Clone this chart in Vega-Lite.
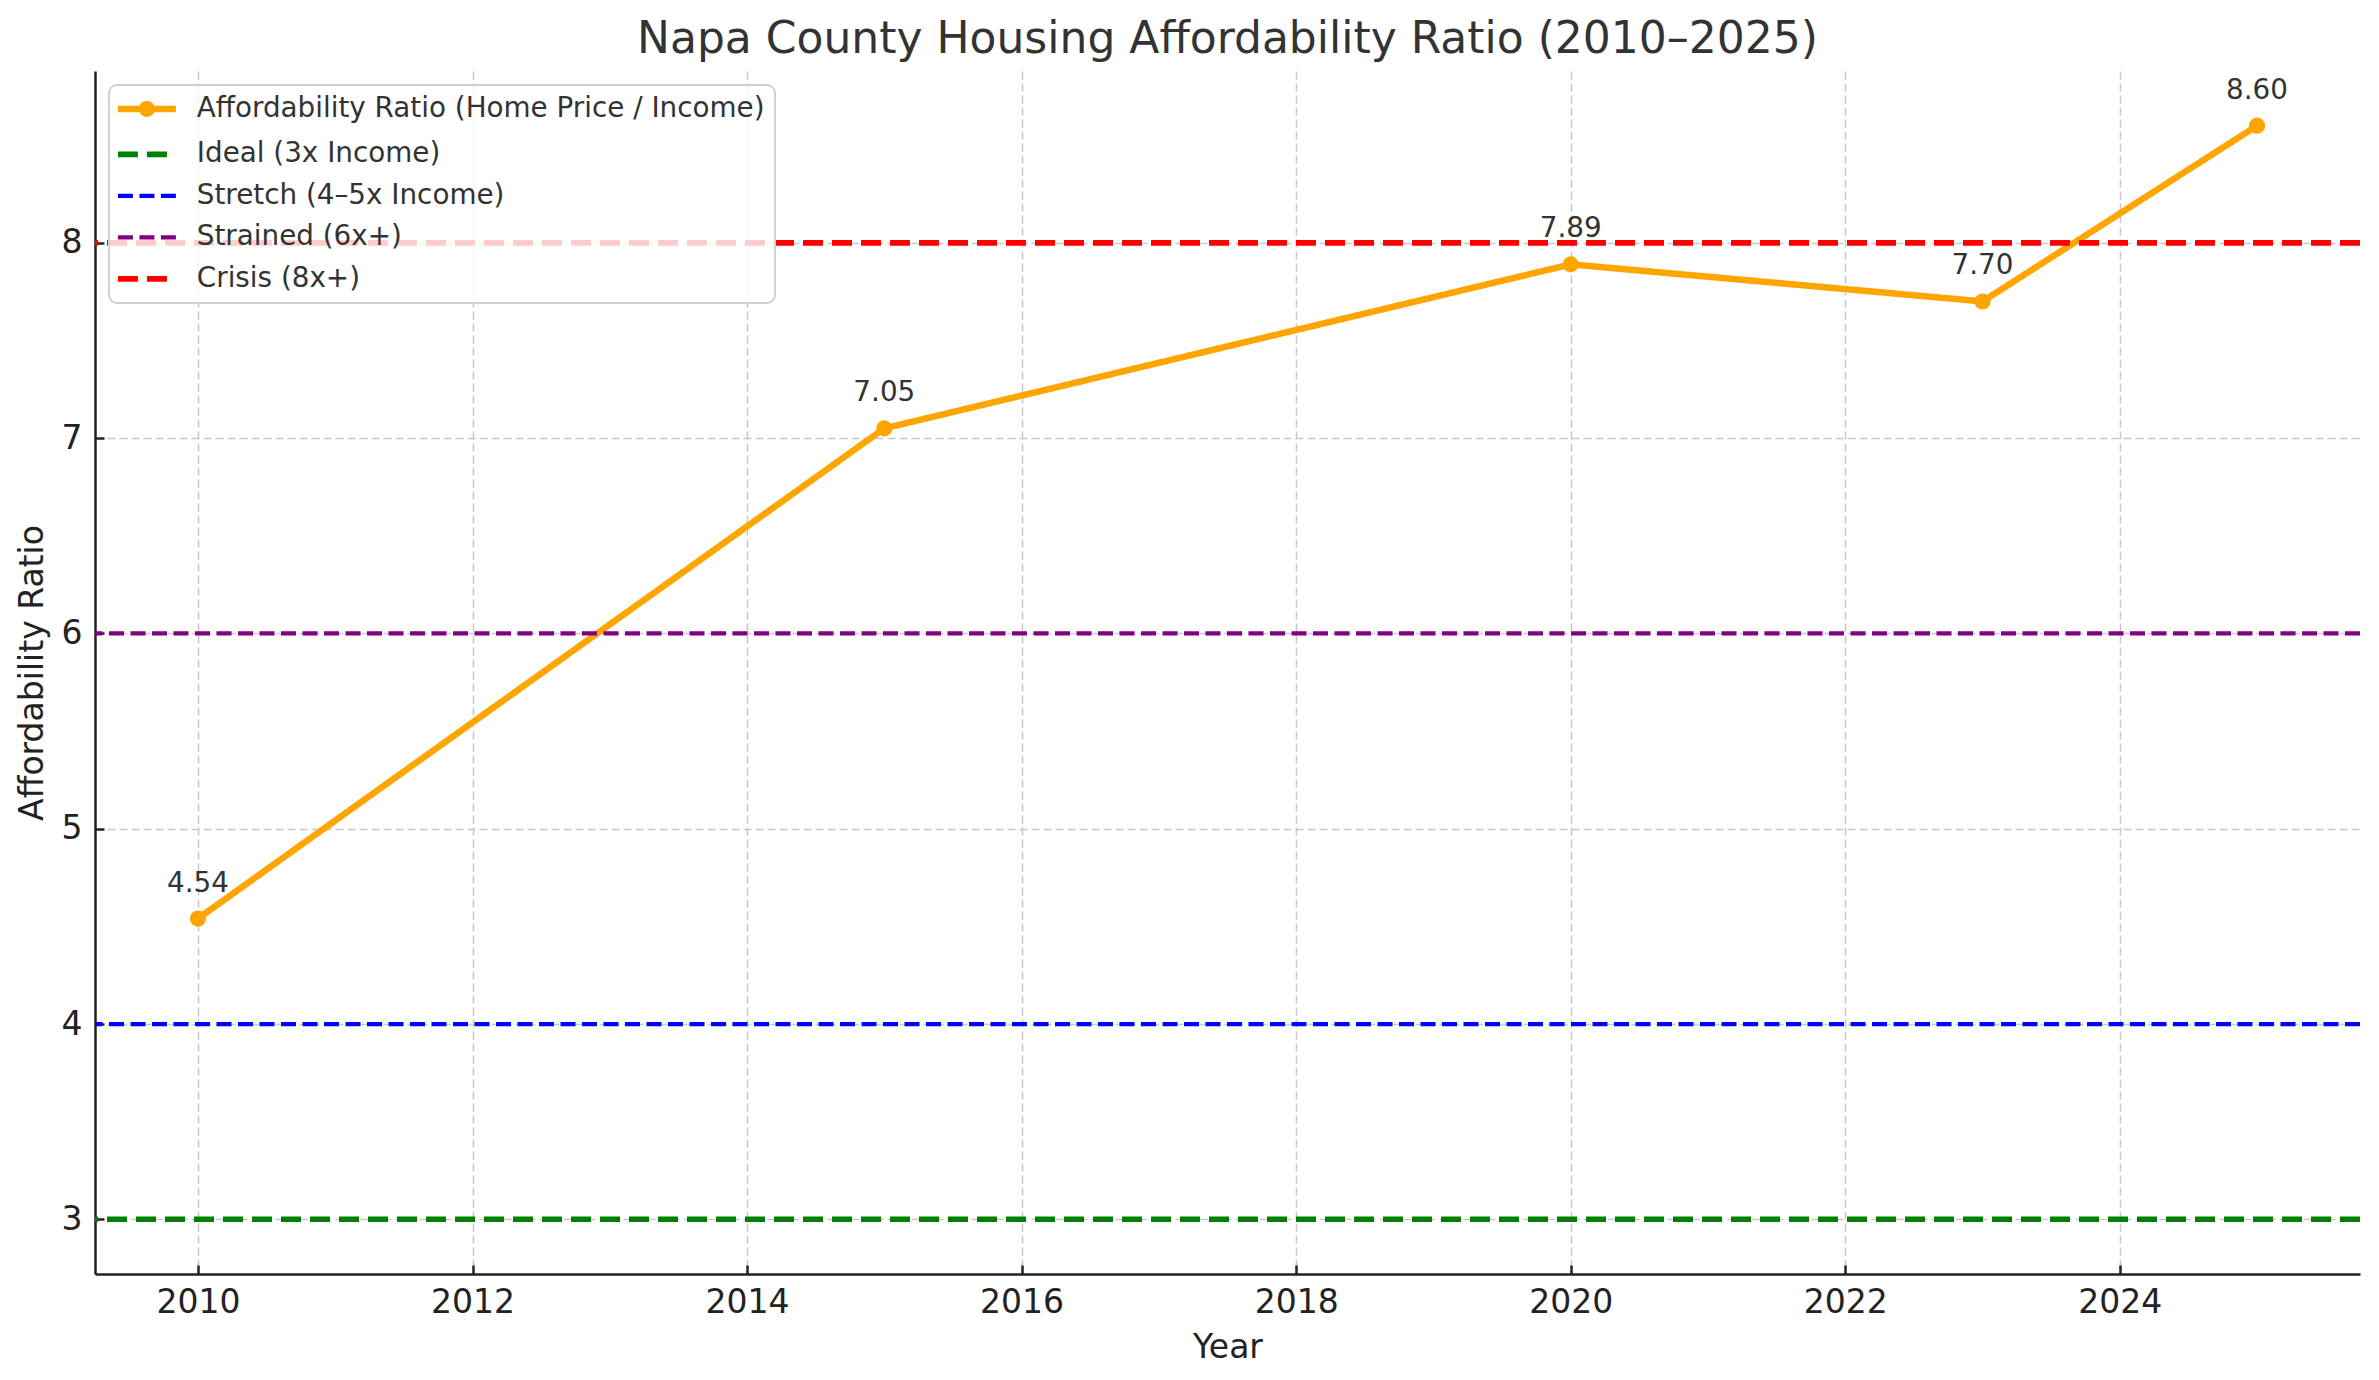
{
  "$schema": "https://vega.github.io/schema/vega-lite/v6.json",
  "width": 2265,
  "height": 1203,
  "autosize": {"type": "none"},
  "padding": {"left": 95, "top": 71, "right": 19, "bottom": 106},
  "background": "white",
  "title": {
    "text": "Napa County Housing Affordability Ratio (2010–2025)",
    "fontSize": 44,
    "font": "DejaVu Sans",
    "fontWeight": "normal",
    "color": "#333333",
    "anchor": "middle",
    "offset": 9
  },
  "datasets": {
    "ratio": [
      {"year": 2010, "ratio": 4.54, "series": "Affordability Ratio (Home Price / Income)"},
      {"year": 2015, "ratio": 7.05, "series": "Affordability Ratio (Home Price / Income)"},
      {"year": 2020, "ratio": 7.89, "series": "Affordability Ratio (Home Price / Income)"},
      {"year": 2023, "ratio": 7.70, "series": "Affordability Ratio (Home Price / Income)"},
      {"year": 2025, "ratio": 8.60, "series": "Affordability Ratio (Home Price / Income)"}
    ],
    "thresholds": [
      {"series": "Ideal (3x Income)", "value": 3},
      {"series": "Stretch (4–5x Income)", "value": 4},
      {"series": "Strained (6x+)", "value": 6},
      {"series": "Crisis (8x+)", "value": 8}
    ]
  },
  "config": {
    "view": {"stroke": null},
    "font": "DejaVu Sans",
    "axis": {
      "domainColor": "#222222",
      "domainWidth": 2.5,
      "tickColor": "#222222",
      "tickWidth": 2.5,
      "tickSize": -9,
      "labelFont": "DejaVu Sans",
      "labelFontSize": 33,
      "labelColor": "#222222",
      "titleFont": "DejaVu Sans",
      "titleFontSize": 33,
      "titleFontWeight": "normal",
      "titleColor": "#222222",
      "gridColor": "#c8c8c8",
      "gridWidth": 1.5,
      "gridDash": [8, 4]
    }
  },
  "layer": [
    {
      "data": {"name": "ratio"},
      "mark": {"type": "line", "strokeWidth": 6.5, "clip": true},
      "encoding": {
        "x": {
          "field": "year", "type": "quantitative",
          "scale": {"domain": [2009.25, 2025.75], "nice": false, "zero": false},
          "axis": {"title": "Year", "values": [2010, 2012, 2014, 2016, 2018, 2020, 2022, 2024], "format": "d", "labelPadding": 21, "titlePadding": 12}
        },
        "y": {
          "field": "ratio", "type": "quantitative",
          "scale": {"domain": [2.72, 8.88], "nice": false, "zero": false},
          "axis": {"title": "Affordability Ratio", "values": [3, 4, 5, 6, 7, 8], "format": "d", "labelPadding": 22, "titlePadding": 12}
        },
        "color": {
          "field": "series", "type": "nominal",
          "scale": {
            "domain": ["Affordability Ratio (Home Price / Income)", "Ideal (3x Income)", "Stretch (4–5x Income)", "Strained (6x+)", "Crisis (8x+)"],
            "range": ["#FFA500", "#008000", "#0000FF", "#800080", "#FF0000"]
          },
          "legend": {
            "title": null,
            "orient": "top-left",
            "offset": 14,
            "padding": 10,
            "fillColor": "rgba(255,255,255,0.8)",
            "strokeColor": "#d0d0d0",
            "cornerRadius": 8,
            "symbolType": "M-1.07,0L3.07,0",
            "symbolSize": 784,
            "symbolStrokeWidth": 5.6,
            "labelFont": "DejaVu Sans",
            "labelFontSize": 27.8,
            "labelColor": "#333333",
            "labelOffset": 50,
            "labelLimit": 1000,
            "rowPadding": 12.5,
            "encode": {
              "legend": {"update": {"strokeWidth": {"value": 2}}},
              "symbols": {
                "update": {
                  "shape": {"signal": "datum.value === 'Affordability Ratio (Home Price / Income)' ? 'M-1.07,0L3.07,0M0.66,0A0.34,0.34,0,1,1,1.34,0A0.34,0.34,0,1,1,0.66,0' : 'M-1.07,0L3.07,0'"},
                  "fill": {"signal": "datum.value === 'Affordability Ratio (Home Price / Income)' ? '#FFA500' : 'transparent'"},
                  "strokeWidth": {"signal": "datum.value === 'Affordability Ratio (Home Price / Income)' ? 6.5 : (datum.value === 'Ideal (3x Income)' || datum.value === 'Crisis (8x+)') ? 5.6 : 4.2"}
                }
              }
            }
          }
        },
        "strokeDash": {
          "field": "series", "type": "nominal",
          "scale": {
            "domain": ["Affordability Ratio (Home Price / Income)", "Ideal (3x Income)", "Stretch (4–5x Income)", "Strained (6x+)", "Crisis (8x+)"],
            "range": [[1, 0], [20, 9], [15, 6.5], [15, 6.5], [20, 9]]
          },
          "legend": null
        }
      }
    },
    {
      "data": {"name": "ratio"},
      "mark": {"type": "point", "filled": true, "opacity": 1, "size": 260, "color": "#FFA500"},
      "encoding": {
        "x": {"field": "year", "type": "quantitative"},
        "y": {"field": "ratio", "type": "quantitative"}
      }
    },
    {
      "data": {"name": "thresholds"},
      "mark": {"type": "rule"},
      "encoding": {
        "y": {"field": "value", "type": "quantitative"},
        "color": {"field": "series", "type": "nominal"},
        "strokeDash": {"field": "series", "type": "nominal"},
        "strokeWidth": {
          "condition": {"test": "datum.series === 'Ideal (3x Income)' || datum.series === 'Crisis (8x+)'", "value": 5.6},
          "value": 4.2
        }
      }
    },
    {
      "data": {"name": "ratio"},
      "mark": {"type": "text", "baseline": "alphabetic", "align": "center", "dy": -27, "fontSize": 27.8, "font": "DejaVu Sans", "color": "#333333"},
      "encoding": {
        "x": {"field": "year", "type": "quantitative"},
        "y": {"field": "ratio", "type": "quantitative"},
        "text": {"field": "ratio", "type": "quantitative", "format": ".2f"}
      }
    }
  ]
}
